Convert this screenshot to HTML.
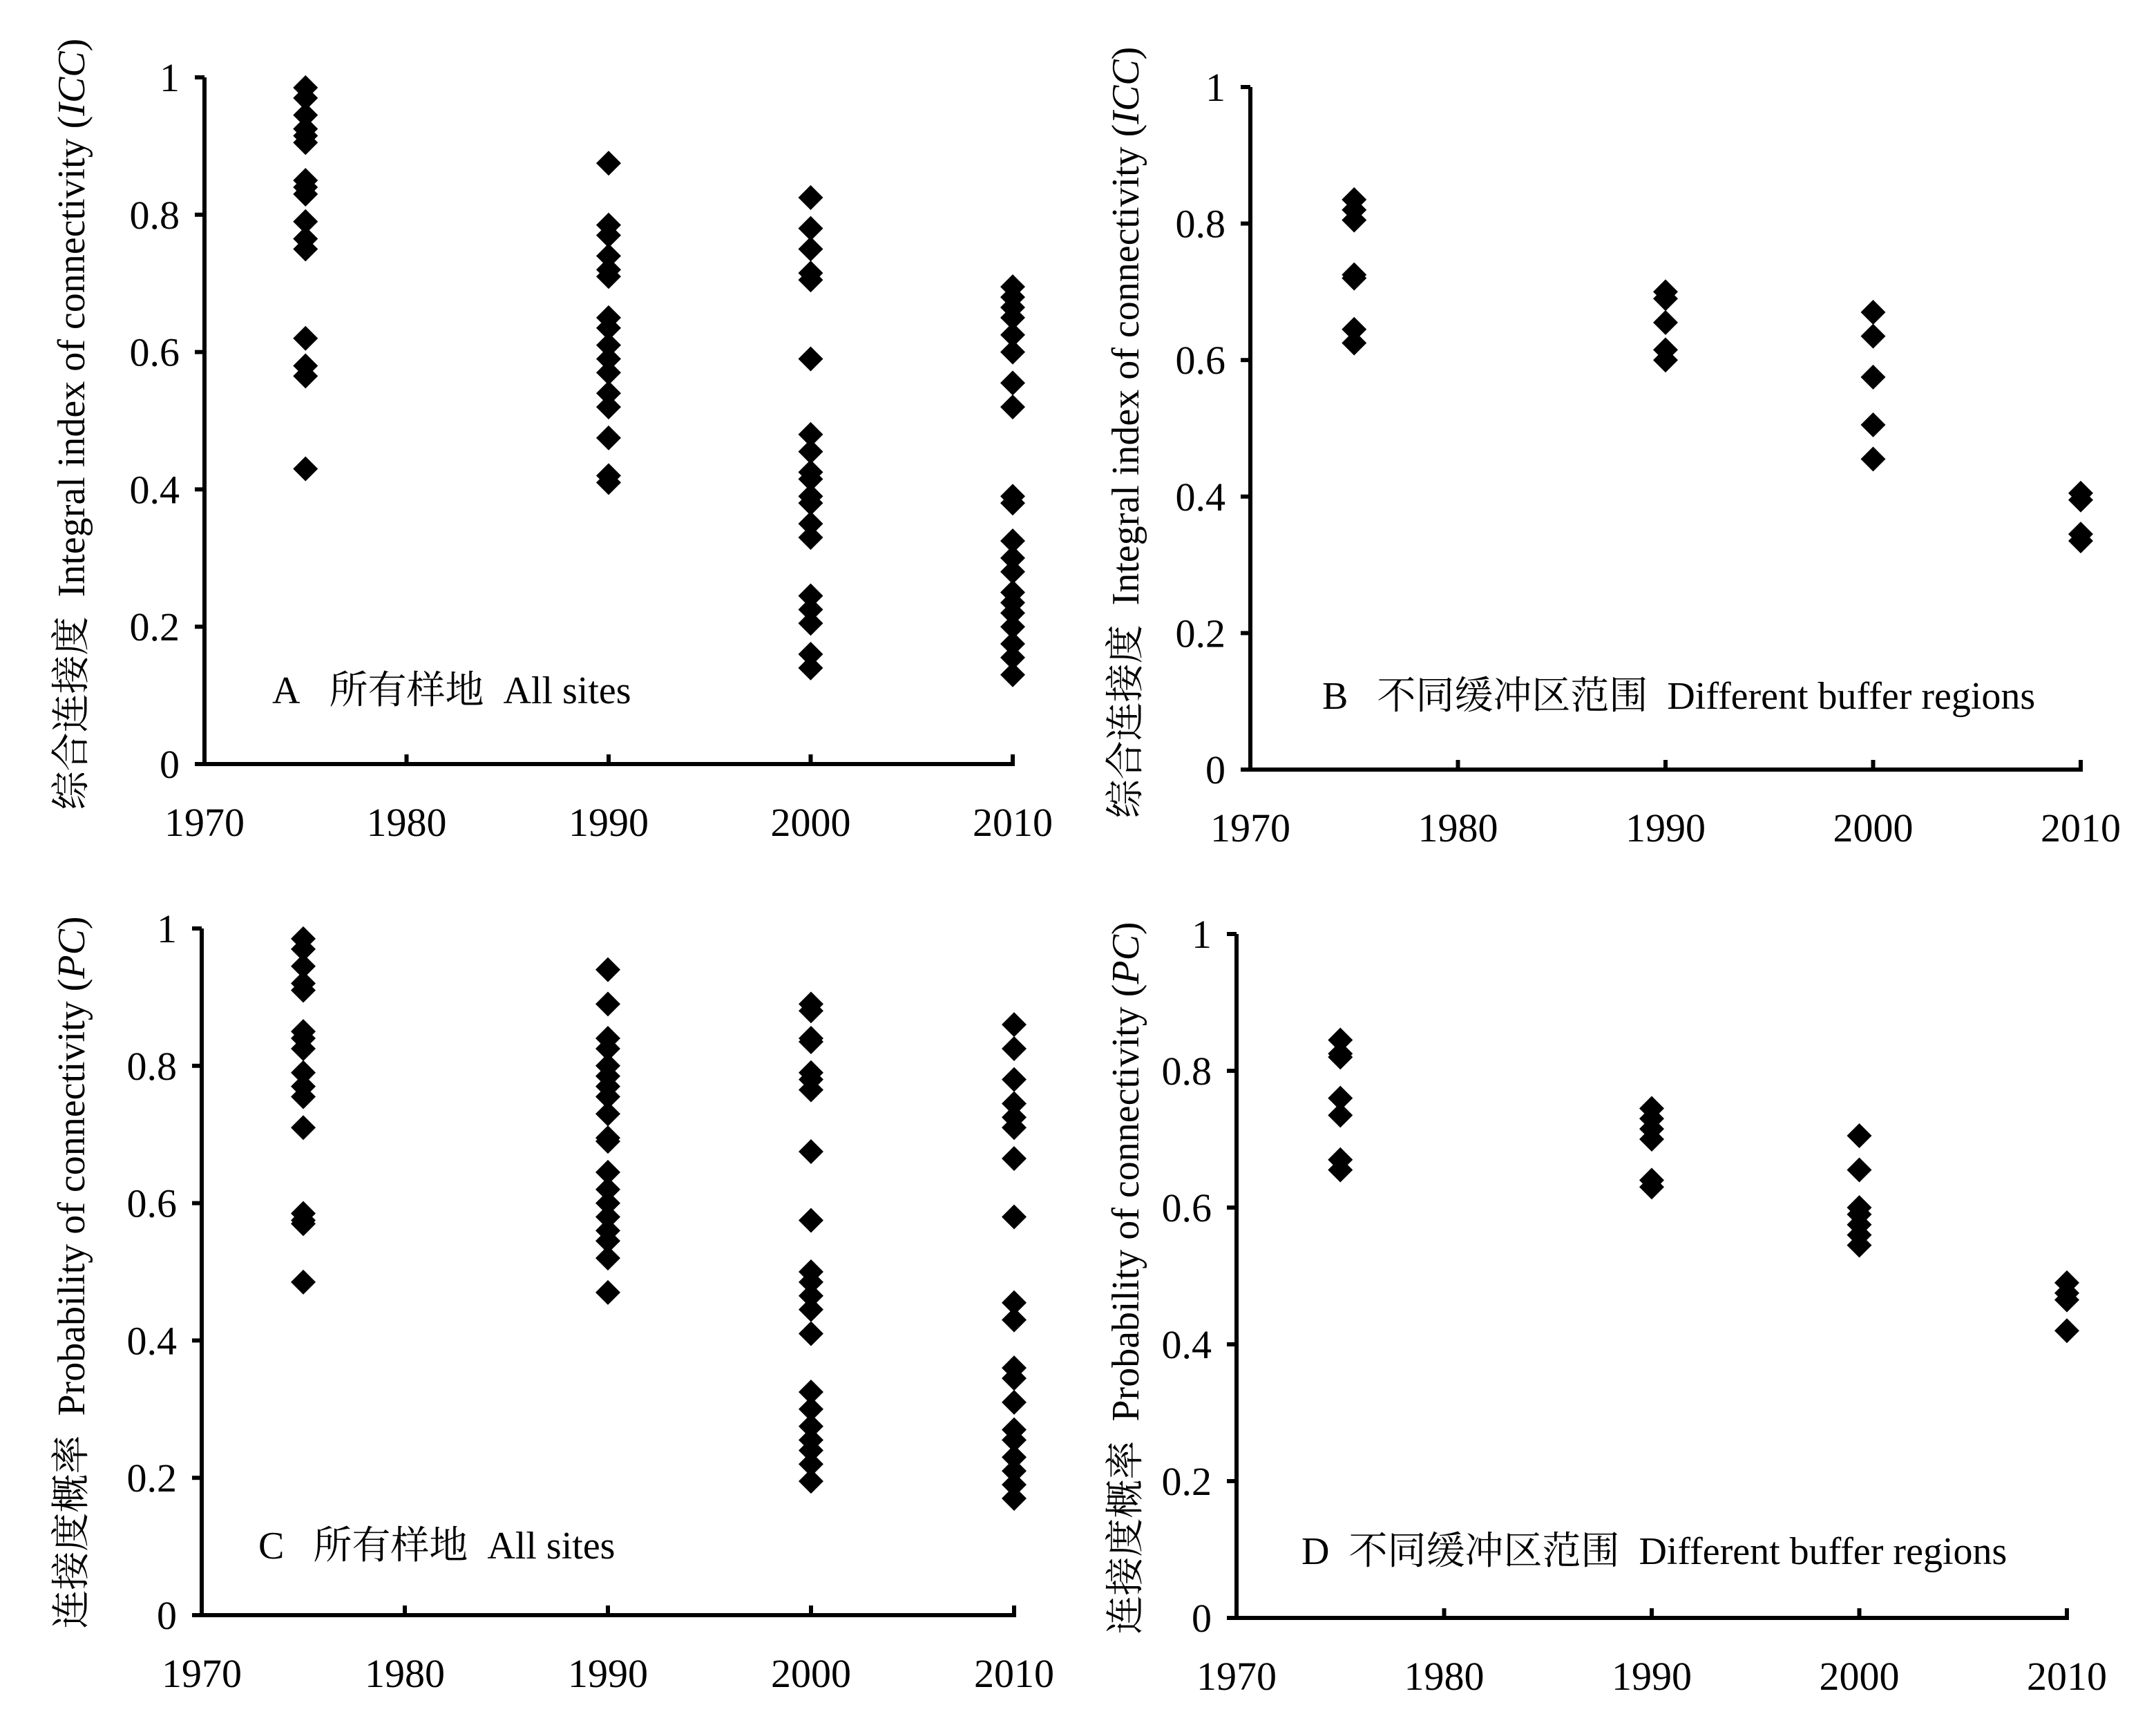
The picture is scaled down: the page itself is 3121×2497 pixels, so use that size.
<!DOCTYPE html>
<html><head><meta charset="utf-8"><style>
html,body{margin:0;padding:0;background:#fff;}
svg{display:block;}
text{font-family:"Liberation Serif","Noto Serif CJK SC","Noto Sans CJK SC",serif;fill:#000;white-space:pre;}
</style></head><body>
<svg id="s" width="3121" height="2497" viewBox="0 0 1560.5 1248.5" xmlns="http://www.w3.org/2000/svg">
<rect width="1560.5" height="1248.5" fill="#fff"/>
<g font-size="28">
<text transform="translate(61,307) rotate(-90)" text-anchor="middle">综合连接度&#160; Integral index of connectivity (<tspan font-style="italic">ICC</tspan>)</text>
<text transform="translate(824,313) rotate(-90)" text-anchor="middle">综合连接度&#160; Integral index of connectivity (<tspan font-style="italic">ICC</tspan>)</text>
<text transform="translate(61,921) rotate(-90)" text-anchor="middle">连接度概率&#160; Probability of connectivity (<tspan font-style="italic">PC</tspan>)</text>
<text transform="translate(824,925) rotate(-90)" text-anchor="middle">连接度概率&#160; Probability of connectivity (<tspan font-style="italic">PC</tspan>)</text>
<text x="197" y="509">A&#160;&#160;&#160;所有样地&#160;&#160;All sites</text>
<text x="957" y="513">B&#160;&#160;&#160;不同缓冲区范围&#160;&#160;Different buffer regions</text>
<text x="187" y="1128">C&#160;&#160;&#160;所有样地&#160;&#160;All sites</text>
<text x="942" y="1132">D&#160;&#160;不同缓冲区范围&#160;&#160;Different buffer regions</text>
</g>
<g id="g"></g>
</svg>
<script>
var P=[
{ax:148,y0:553,y1:56,dx:146.25,d:{1975:[.985,.97,.945,.925,.915,.905,.85,.84,.83,.79,.765,.75,.62,.58,.565,.43],1990:[.875,.785,.77,.74,.72,.71,.65,.635,.61,.59,.57,.54,.52,.475,.42,.41],2000:[.825,.78,.75,.715,.705,.59,.48,.455,.425,.415,.39,.38,.35,.33,.245,.225,.205,.16,.14],2010:[.695,.68,.665,.65,.625,.6,.555,.52,.39,.38,.325,.3,.28,.25,.235,.22,.2,.175,.155,.13]}},
{ax:905,y0:557,y1:63,dx:150.25,d:{1975:[.835,.82,.805,.725,.72,.645,.625],1990:[.7,.69,.655,.615,.6],2000:[.67,.635,.575,.505,.455],2010:[.405,.395,.345,.335]}},
{ax:146,y0:1169,y1:672,dx:147,d:{1975:[.985,.97,.945,.92,.91,.85,.84,.825,.79,.77,.755,.71,.585,.575,.57,.485],1990:[.94,.89,.84,.825,.8,.785,.77,.755,.73,.695,.69,.645,.62,.6,.58,.56,.545,.52,.47],2000:[.89,.88,.84,.835,.79,.78,.765,.675,.575,.5,.485,.465,.445,.41,.325,.3,.275,.255,.24,.22,.195],2010:[.86,.825,.78,.745,.725,.71,.665,.58,.455,.43,.36,.345,.31,.27,.255,.23,.21,.19,.17]}},
{ax:895,y0:1171,y1:676,dx:150.25,d:{1975:[.845,.825,.82,.76,.735,.67,.655],1990:[.745,.73,.715,.7,.64,.63],2000:[.705,.655,.6,.59,.575,.56,.545],2010:[.49,.475,.465,.42]}}
];
var h='';
P.forEach(function(p){
 var xe=p.ax+4*p.dx;
 h+='<path d="M'+p.ax+' '+(p.y1)+'V'+p.y0+'H'+(xe+1.5)+'" fill="none" stroke="#000" stroke-width="3"/>';
 for(var i=0;i<=5;i++){var y=p.y0-(p.y0-p.y1)*i/5;
  h+='<line x1="'+(p.ax-7)+'" y1="'+y+'" x2="'+p.ax+'" y2="'+y+'" stroke="#000" stroke-width="3"/>';
  var l=['0','0.2','0.4','0.6','0.8','1'][i];
  h+='<text x="'+(p.ax-18)+'" y="'+(y+10)+'" text-anchor="end" font-size="29">'+l+'</text>';}
 for(var k=0;k<=4;k++){var x=p.ax+k*p.dx;
  h+='<line x1="'+x+'" y1="'+(p.y0-7)+'" x2="'+x+'" y2="'+p.y0+'" stroke="#000" stroke-width="3"/>';
  h+='<text x="'+x+'" y="'+(p.y0+52)+'" text-anchor="middle" font-size="29">'+(1970+10*k)+'</text>';}
 for(var yr in p.d){var x=p.ax+(yr-1970)/10*p.dx;
  p.d[yr].forEach(function(v){var y=p.y0-(p.y0-p.y1)*v;
   h+='<path d="M'+x+' '+(y-9)+'L'+(x+9)+' '+y+'L'+x+' '+(y+9)+'L'+(x-9)+' '+y+'Z" fill="#000"/>';});}
});
document.getElementById('g').innerHTML=h;
</script>
</body></html>
